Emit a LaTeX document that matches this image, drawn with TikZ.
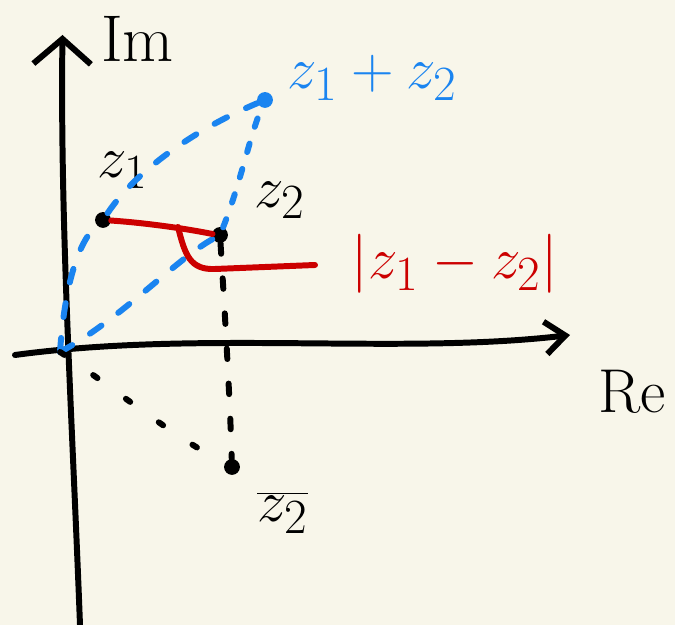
\documentclass[tikz,border=0pt]{standalone}
\usetikzlibrary{arrows.meta}
\definecolor{paper}{HTML}{F8F6EA}
\definecolor{penblue}{HTML}{1A84F0}
\definecolor{penred}{HTML}{CC0000}
\tikzset{
  pen/.style={line width=3.4pt, line cap=round, line join=round},
  dot/.style={circle, fill=black, inner sep=0pt, minimum size=9pt},
  lbl/.style={font=\Huge, scale=1.35, transform shape},
  bluedash/.style={pen, penblue, dash pattern=on 8pt off 12pt},
  bluedot/.style={pen, penblue, dash pattern=on 5pt off 10pt},
  blackdash/.style={pen, black, dash pattern=on 6pt off 14pt},
  blackdot/.style={pen, black, dash pattern=on 3pt off 20pt},
}
\begin{document}
\begin{tikzpicture}
    \fill[paper] (0,0) rectangle (13.5,12.5);
    \useasboundingbox (0,0) rectangle (13.5,12.5);

    % axes
    \coordinate (imlo) at (1.6,0);
    \coordinate (imhi) at (1.25,11.8);
    \coordinate (relo) at (0.3,5.4);
    \coordinate (rehi) at (11.4,5.8);
    \draw[pen, -{Straight Barb[length=0.5cm, width=1.15cm, line width=3.4pt]}]
        (imlo) .. controls (1.45,4) and (1.2,8) .. (imhi);
    \draw[pen, -{Straight Barb[length=0.4cm, width=0.65cm, line width=3.4pt]}]
        (relo) .. controls (4,5.9) and (8,5.4) .. (rehi);
    \node[lbl, scale=1.12] (im) at (2.75,11.72) {$\mathrm{Im}$};
    \node[lbl, scale=1.05] (re) at (12.65,4.68) {$\mathrm{Re}$};

    % points
    \coordinate (o) at (1.2,5.46);
    \node[dot] (z1) at (2.06,8.1) {};
    \node[dot] (z2) at (4.4,7.8) {};
    \node[dot, penblue] (s) at (5.3,10.5) {};
    \node[dot] (cz2) at (4.64,3.16) {};

    \node[lbl] (z1l) at (2.45,9.1) {$z_1$};
    \node[lbl] (z2l) at (5.6,8.5) {$z_2$};
    \node[lbl, penblue] (sl) at (7.45,10.94) {$z_1+z_2$};
    \node[lbl] (cz2l) at (5.65,2.25) {$\overline{z_2}$};

    % parallelogram
    \draw[bluedash] (o) .. controls (1.3,6.9) and (1.6,7.7) .. (z1);
    \draw[bluedash] (z1) .. controls (2.8,9.2) and (4.1,10.0) .. (s);
    \draw[bluedash] (o) .. controls (2.4,6.1) and (3.5,7.3) .. (z2);
    \draw[bluedot] (z2) .. controls (4.8,8.8) and (5.0,9.8) .. (s);

    % conjugate
    \draw[blackdash] (z2) .. controls (4.5,6.2) and (4.6,4.5) .. (cz2);
    \draw[blackdot] (o) .. controls (2.2,4.8) and (3.4,3.8) .. (cz2);

    % distance
    \coordinate (mid) at (3.56,7.96);
    \coordinate (tip) at (6.3,7.2);
    \draw[pen, penred] (z1) .. controls (2.8,8.05) and (3.6,7.95) .. (4.25,7.82);
    \draw[pen, penred] (mid) .. controls (3.7,7.4) and (3.8,7.1) .. (4.3,7.12) -- (tip);
    \node[lbl, penred] (dl) at (9.1,7.22) {$|z_1-z_2|$};
\end{tikzpicture}
\end{document}
